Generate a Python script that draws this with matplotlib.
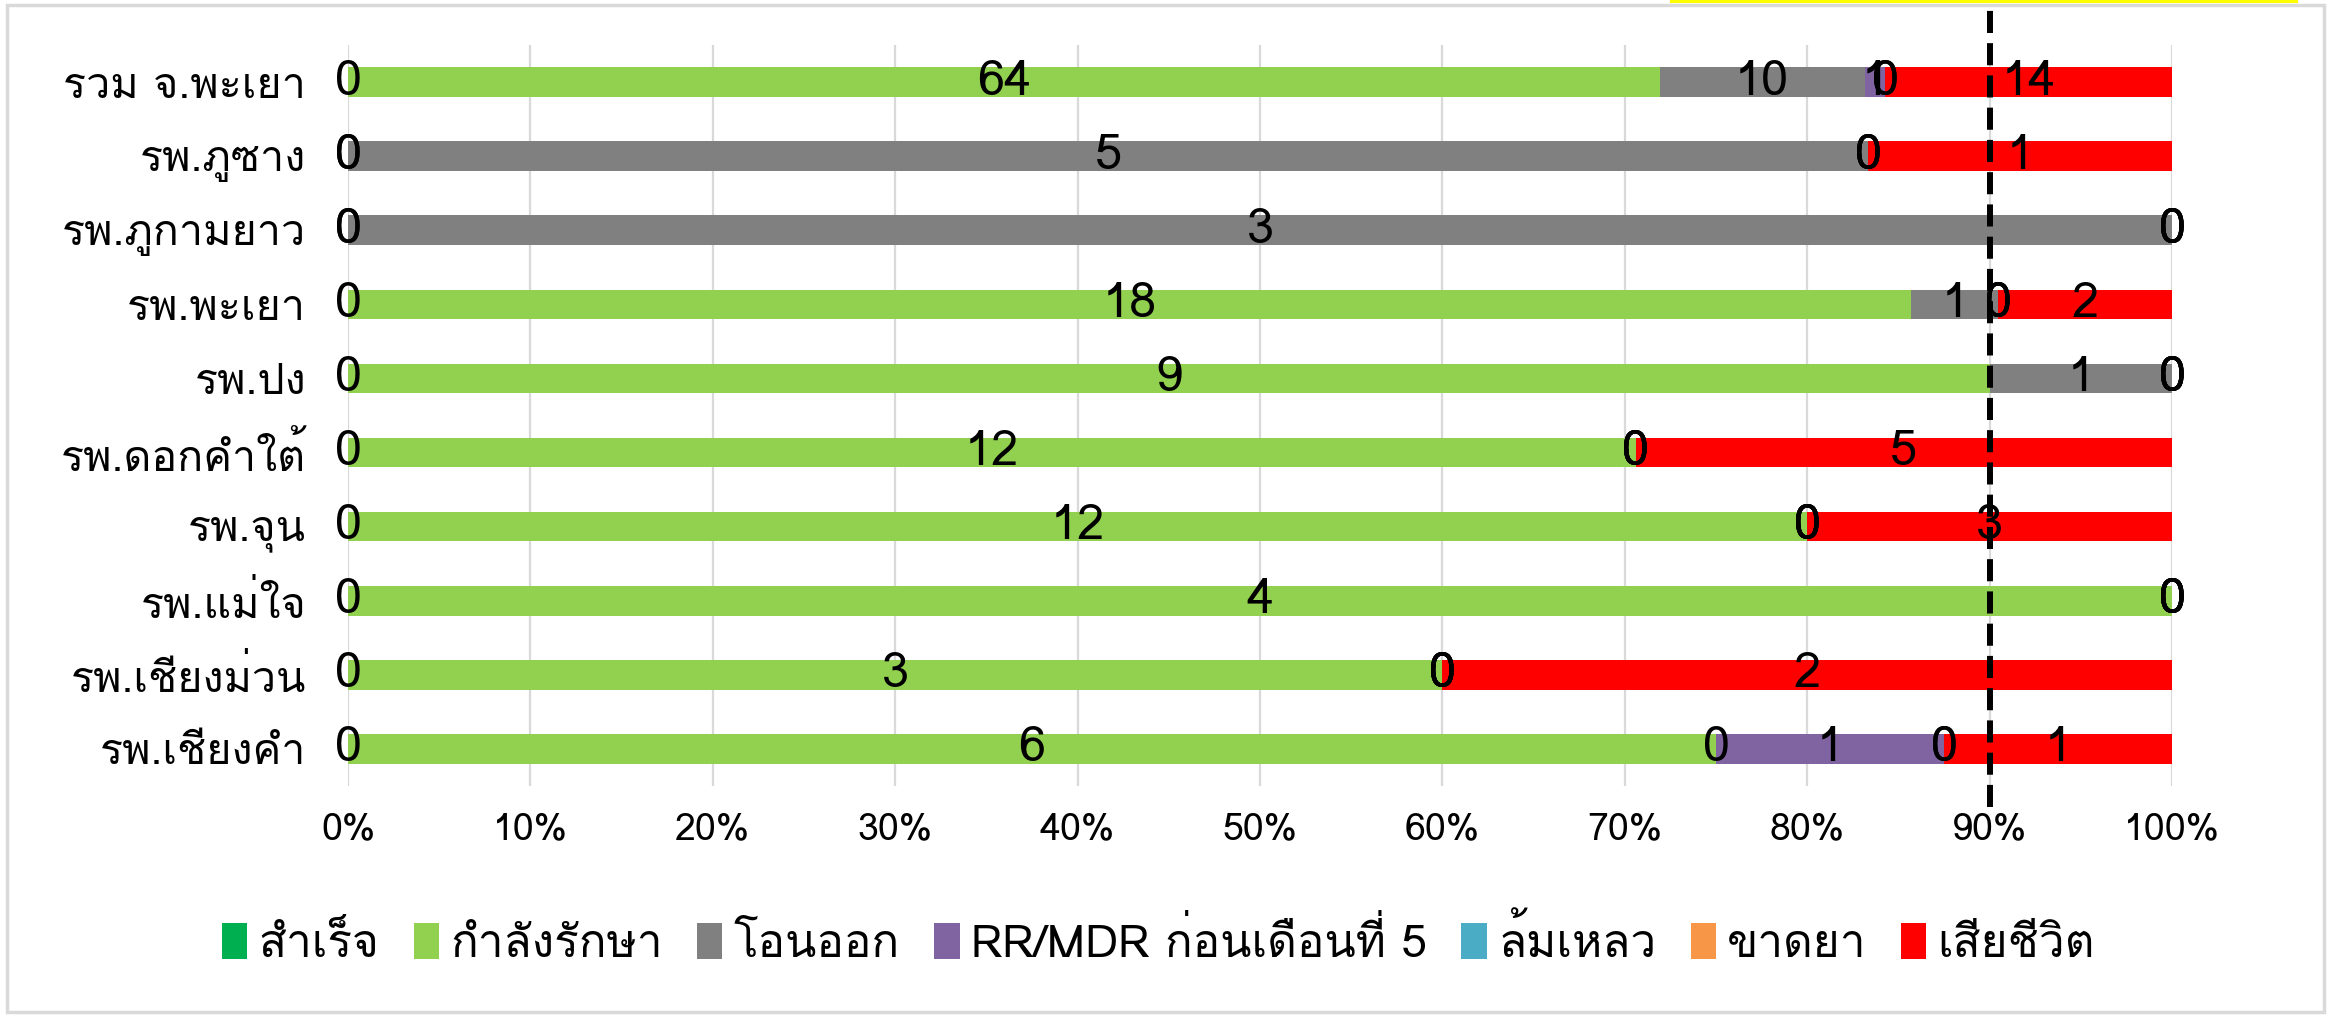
import numpy as np
import matplotlib
matplotlib.use("Agg")
import matplotlib.pyplot as plt
from matplotlib import font_manager
from matplotlib.ft2font import FT2Font
from matplotlib.patches import Rectangle
from matplotlib.lines import Line2D

# หา font ที่มีตัวอักษรไทย
thai_font = None
for f in font_manager.fontManager.ttflist:
    try:
        if 0x0E01 in FT2Font(f.fname).get_charmap():
            thai_font = f.name
            break
    except Exception:
        pass
families = [thai_font, "DejaVu Sans"] if thai_font else ["DejaVu Sans"]
plt.rcParams["font.family"] = families

# ข้อมูล (ล่าง -> บน)
hospitals = ["รพ.เชียงคำ", "รพ.เชียงม่วน", "รพ.แม่ใจ", "รพ.จุน", "รพ.ดอกคำใต้",
             "รพ.ปง", "รพ.พะเยา", "รพ.ภูกามยาว", "รพ.ภูซาง", "รวม จ.พะเยา"]
success = [0, 0, 0, 0, 0, 0, 0, 0, 0, 0]
treating = [6, 3, 4, 12, 12, 9, 18, 0, 0, 64]
transfer = [0, 0, 0, 0, 0, 1, 1, 3, 5, 10]
rr_mdr = [1, 0, 0, 0, 0, 0, 0, 0, 0, 1]
failed = [0, 0, 0, 0, 0, 0, 0, 0, 0, 0]
default = [0, 0, 0, 0, 0, 0, 0, 0, 0, 0]
died = [1, 2, 0, 3, 5, 0, 2, 0, 1, 14]

series_names = ["สำเร็จ", "กำลังรักษา", "โอนออก", "RR/MDR ก่อนเดือนที่ 5",
                "ล้มเหลว", "ขาดยา", "เสียชีวิต"]
colors = ["#00B050", "#92D050", "#808080", "#8064A2", "#4BACC6", "#F79646", "#FF0000"]
xticks = [0, 0.1, 0.2, 0.3, 0.4, 0.5, 0.6, 0.7, 0.8, 0.9, 1.0]
target = 0.9

counts = np.array([success, treating, transfer, rr_mdr, failed, default, died], dtype=float)
totals = counts.sum(axis=0)
shares = counts / totals

fig = plt.figure(figsize=(23.31, 10.16), dpi=100)
ax = fig.add_axes([0.1493, 0.2264, 0.7825, 0.7293])

y = np.arange(len(hospitals))
left = np.zeros(len(hospitals))
for i, name in enumerate(series_names):
    bars = ax.barh(y, shares[i], left=left, height=0.4, color=colors[i],
                   label=name, zorder=2)
    ax.bar_label(bars, labels=[str(int(v)) for v in counts[i]],
                 label_type="center", fontsize=35, color="black", zorder=4)
    left += shares[i]

ax.set_xlim(0, 1)
ax.set_ylim(-0.5, len(hospitals) - 0.5)
ax.set_xticks(xticks)
ax.set_xticklabels([f"{int(round(t * 100))}%" for t in xticks], fontsize=27)
ax.set_yticks(y)
ax.set_yticklabels(hospitals, fontsize=31)
ax.tick_params(axis="both", length=0)
ax.tick_params(axis="x", pad=19)
ax.tick_params(axis="y", pad=30)
ax.xaxis.grid(True, color="#D9D9D9", linewidth=1.6, zorder=0)
ax.set_axisbelow(True)
for s in ax.spines.values():
    s.set_visible(False)

# เส้นเป้าหมาย 90%
ax.axvline(target, ymin=-0.028, ymax=1.062, color="black", linewidth=4.3,
           linestyle=(0, (3.7, 1.7)), clip_on=False, zorder=5)

fig.legend(loc="center", bbox_to_anchor=(0.497, 0.074), ncol=7, frameon=False,
           fontsize=33, handlelength=0.55, handleheight=0.85, handletextpad=0.25,
           columnspacing=0.75)

# กรอบ chart area
fig.add_artist(Rectangle((0.003, 0.004), 0.994, 0.991, transform=fig.transFigure,
                         fill=False, edgecolor="#D9D9D9", linewidth=2.5))
fig.add_artist(Line2D([0.7175, 0.985], [0.999, 0.999], transform=fig.transFigure,
                      color="#FFFF00", linewidth=3))

fig.savefig("out.png", dpi=100, facecolor="white")
